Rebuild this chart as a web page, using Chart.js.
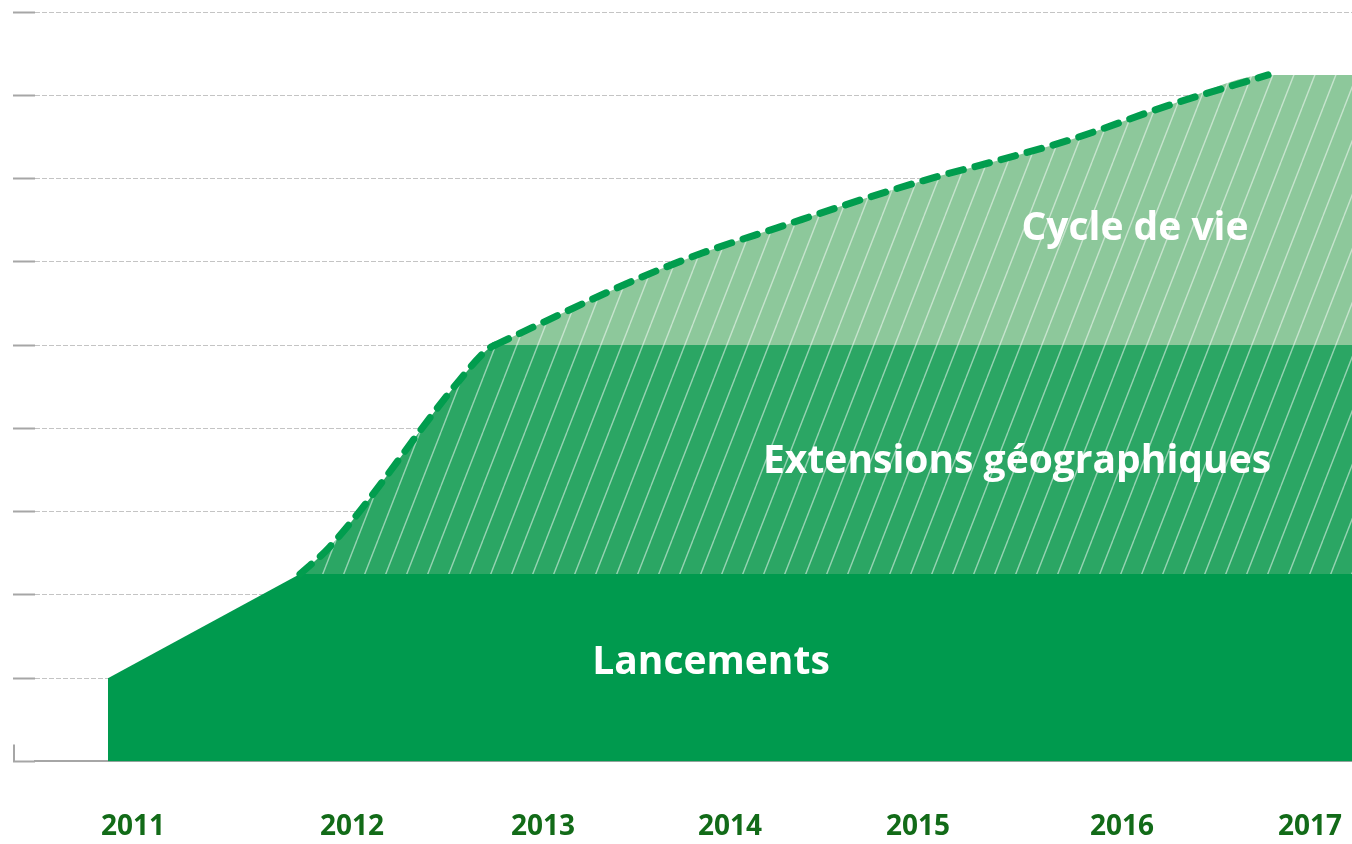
<!DOCTYPE html>
<html>
<head>
<meta charset="utf-8">
<script src="https://cdn.jsdelivr.net/npm/chart.js@4.4.1/dist/chart.umd.min.js"></script>
<style>
  html, body { margin: 0; padding: 0; background: #fff; overflow: hidden; }
  canvas { display: block; }
</style>
</head>
<body>
<canvas id="values" width="1352" height="844"></canvas>
<script>
// years shown under the axis
var years = ['2011', '2012', '2013', '2014', '2015', '2016', '2017'];

// Lancements (upper edge)
var lancX = [2010.871, 2011.848, 2017.2];
var lancY = [1.0, 2.25, 2.25];

// Extensions géographiques (upper edge, cumulative)
var extX = [2011.848, 2012.001, 2012.662, 2012.800, 2012.840, 2017.2];
var extY = [2.25, 2.58, 4.584, 4.944, 5.0, 5.0];

// Cycle de vie (upper edge, cumulative)
var cycX = [2012.840, 2013.578, 2013.898, 2014.275, 2014.733, 2015.068, 2015.409, 2015.765, 2016.274, 2016.773, 2017.2];
var cycY = [5.0, 5.808, 6.108, 6.408, 6.768, 7.008, 7.224, 7.464, 7.884, 8.244, 8.244];

var seriesNames = ['Lancements', 'Extensions géographiques', 'Cycle de vie'];

function pts(xs, ys) {
	var out = [];
	for (var i in xs) {
		out.push({x: xs[i], y: ys[i]});
	}
	return out;
}

// the dashed edge only follows the rising part, not the flat end
function rising(xs, ys) {
	var p = pts(xs, ys);
	while (p.length > 2 && p[p.length - 1].y === p[p.length - 2].y) p.pop();
	return p;
}

function hatch(base) {
	var w = 21, h = 54;
	var c = document.createElement('canvas');
	c.width = w; c.height = h;
	var g = c.getContext('2d');
	g.fillStyle = base;
	g.fillRect(0, 0, w, h);
	g.strokeStyle = 'rgba(255,255,255,0.5)';
	g.lineWidth = 1.4;
	for (var k = -1; k <= 1; k++) {
		g.beginPath();
		g.moveTo(k * w, h);
		g.lineTo(k * w + w, 0);
		g.stroke();
	}
	return g.createPattern(c, 'repeat');
}

var dashGreen = '#019d4e';

// where the year labels sit along the axis
var yearLabelAt = [2010.999, 2012.113, 2013.084, 2014.036, 2014.992, 2016.030, 2016.986];

// text inside the areas
var areaLabels = [
	{text: seriesNames[0], x: 2013.939, y: 1.044},
	{text: seriesNames[1], x: 2015.496, y: 3.468},
	{text: seriesNames[2], x: 2016.096, y: 6.264}
];

var areaText = {
	id: 'areaText',
	afterDatasetsDraw: function(chart) {
		var c = chart.ctx;
		var xs = chart.scales.x, ys = chart.scales.y;
		c.save();
		c.fillStyle = '#ffffff';
		c.font = 'bold 39px "Open Sans"';
		c.textAlign = 'center';
		c.textBaseline = 'alphabetic';
		areaLabels.forEach(function(l) {
			c.fillText(l.text, xs.getPixelForValue(l.x), ys.getPixelForValue(l.y));
		});
		c.restore();
	},
	afterDraw: function(chart) {
		// little corner mark at the origin
		var c = chart.ctx;
		var y0 = chart.scales.y.getPixelForValue(0);
		var xl = chart.scales.y.left + 1;
		c.save();
		c.strokeStyle = '#a6a6a6';
		c.lineWidth = 2;
		c.beginPath();
		c.moveTo(xl, y0 - 17);
		c.lineTo(xl, y0);
		c.stroke();
		c.restore();
	}
};

var dashed = {
	order: -1,
	backgroundColor: 'rgba(0,0,0,0)',
	borderColor: dashGreen,
	borderWidth: 7,
	borderDash: [15, 12],
	borderCapStyle: 'round',
	pointRadius: 0,
	fill: false,
	cubicInterpolationMode: 'monotone'
};

var ctx = document.getElementById('values');

var chart = new Chart(ctx, {
	type: 'line',
	data: {
		datasets: [
			{
				label: seriesNames[0],
				data: pts(lancX, lancY),
				backgroundColor: '#009a4e',
				borderWidth: 0,
				pointRadius: 0,
				fill: 'origin'
			},
			{
				label: seriesNames[1],
				data: pts(extX, extY),
				backgroundColor: hatch('#2ba664'),
				borderWidth: 0,
				pointRadius: 0,
				fill: 0,
				cubicInterpolationMode: 'monotone'
			},
			{
				label: seriesNames[2],
				data: pts(cycX, cycY),
				backgroundColor: hatch('#8dc89b'),
				borderWidth: 0,
				pointRadius: 0,
				fill: 1,
				cubicInterpolationMode: 'monotone'
			},
			Object.assign({label: seriesNames[1] + ' edge', data: rising(extX, extY)}, dashed),
			Object.assign({label: seriesNames[2] + ' edge', data: rising(cycX, cycY)}, dashed)
		]
	},
	options: {
		responsive: false,
		animation: false,
		layout: { padding: { left: 13, top: 12, right: 0, bottom: 0 } },
		plugins: {
			legend: { display: false },
			tooltip: { enabled: false }
		},
		scales: {
			x: {
				type: 'linear',
				min: 2010.5,
				max: 2017.2,
				afterBuildTicks: function(scale) {
					scale.ticks = yearLabelAt.map(function(v) { return {value: v}; });
				},
				grid: {
					display: true,
					drawOnChartArea: false,
					drawTicks: true,
					tickLength: 49,
					tickColor: 'rgba(0,0,0,0)'
				},
				border: { display: true, color: '#a6a6a6', width: 2 },
				ticks: {
					autoSkip: false,
					maxRotation: 0,
					padding: 0,
					color: '#126b18',
					font: { family: 'Open Sans', size: 28, weight: 'bold' },
					callback: function(v, i) { return years[i]; }
				}
			},
			y: {
				min: 0,
				max: 9,
				ticks: { display: false, stepSize: 1, padding: 0 },
				grid: {
					color: '#c4c4c4',
					lineWidth: 1,
					drawTicks: true,
					tickLength: 22,
					tickColor: '#a6a6a6',
					tickWidth: 2
				},
				border: { display: false, dash: [5, 2] }
			}
		}
	},
	plugins: [areaText]
});
</script>
</body>
</html>
